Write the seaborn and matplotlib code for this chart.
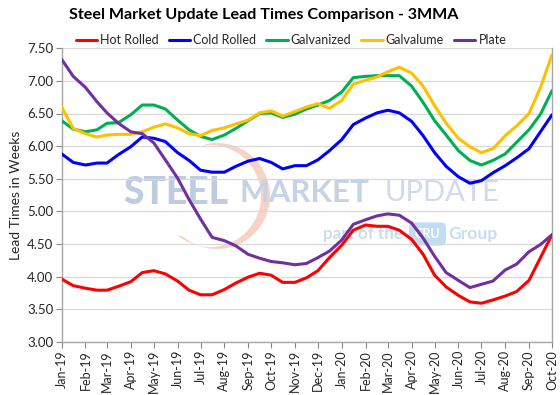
import numpy as np
import pandas as pd
import matplotlib
matplotlib.use("Agg")
import matplotlib.pyplot as plt
import matplotlib.dates as mdates
from matplotlib.patches import Polygon
from matplotlib.transforms import IdentityTransform
import seaborn as sns

# ---- data (semi-monthly survey points, 3-month moving average) ----
dates = pd.to_datetime([
    "2019-01-01", "2019-01-16", "2019-02-01", "2019-02-16", "2019-03-01", "2019-03-16",
    "2019-04-01", "2019-04-16", "2019-05-01", "2019-05-16", "2019-06-01", "2019-06-16",
    "2019-07-01", "2019-07-16", "2019-08-01", "2019-08-16", "2019-09-01", "2019-09-16",
    "2019-10-01", "2019-10-16", "2019-11-01", "2019-11-16", "2019-12-01", "2019-12-16",
    "2020-01-01", "2020-01-16", "2020-02-01", "2020-02-16", "2020-03-01", "2020-03-16",
    "2020-04-01", "2020-04-16", "2020-05-01", "2020-05-16", "2020-06-01", "2020-06-16",
    "2020-07-01", "2020-07-16", "2020-08-01", "2020-08-16", "2020-09-01", "2020-09-16",
    "2020-10-01"])

hot_rolled = [3.96, 3.86, 3.82, 3.79, 3.79, 3.85, 3.92, 4.06, 4.09, 4.04, 3.93, 3.79,
              3.72, 3.72, 3.80, 3.90, 3.99, 4.05, 4.02, 3.91, 3.91, 3.98, 4.09, 4.29,
              4.48, 4.71, 4.79, 4.77, 4.77, 4.71, 4.57, 4.34, 4.02, 3.84, 3.71, 3.61,
              3.59, 3.64, 3.70, 3.77, 3.94, 4.29, 4.64]
cold_rolled = [5.88, 5.75, 5.71, 5.74, 5.74, 5.87, 5.99, 6.14, 6.12, 6.07, 5.90, 5.78,
               5.63, 5.60, 5.60, 5.69, 5.77, 5.81, 5.75, 5.65, 5.70, 5.70, 5.79, 5.93,
               6.10, 6.33, 6.43, 6.51, 6.55, 6.51, 6.38, 6.16, 5.90, 5.69, 5.53, 5.43,
               5.47, 5.59, 5.70, 5.82, 5.96, 6.22, 6.48]
galvanized = [6.39, 6.26, 6.22, 6.25, 6.35, 6.36, 6.48, 6.63, 6.63, 6.57, 6.40, 6.25,
              6.15, 6.10, 6.17, 6.27, 6.39, 6.50, 6.51, 6.44, 6.49, 6.57, 6.63, 6.70,
              6.83, 7.05, 7.07, 7.08, 7.08, 7.08, 6.92, 6.67, 6.39, 6.17, 5.93, 5.78,
              5.71, 5.78, 5.88, 6.06, 6.25, 6.49, 6.85]
galvalume = [6.60, 6.27, 6.19, 6.14, 6.17, 6.18, 6.18, 6.22, 6.29, 6.34, 6.28, 6.19,
             6.16, 6.24, 6.28, 6.34, 6.40, 6.51, 6.54, 6.46, 6.53, 6.60, 6.65, 6.58,
             6.70, 6.95, 7.01, 7.06, 7.14, 7.21, 7.12, 6.92, 6.62, 6.35, 6.12, 5.99,
             5.90, 5.96, 6.16, 6.31, 6.50, 6.90, 7.40]
plate = [7.33, 7.07, 6.90, 6.68, 6.51, 6.35, 6.22, 6.19, 6.05, 5.79, 5.51, 5.18,
         4.88, 4.60, 4.55, 4.47, 4.34, 4.28, 4.23, 4.21, 4.18, 4.20, 4.29, 4.39,
         4.56, 4.80, 4.87, 4.93, 4.96, 4.94, 4.82, 4.59, 4.31, 4.06, 3.94, 3.83,
         3.88, 3.93, 4.10, 4.19, 4.38, 4.49, 4.64]

series_names = ["Hot Rolled", "Cold Rolled", "Galvanized", "Galvalume", "Plate"]
series_values = [hot_rolled, cold_rolled, galvanized, galvalume, plate]
colors = ["#FF0000", "#0000FF", "#00B050", "#FFC000", "#7030A0"]

title = "Steel Market Update Lead Times Comparison - 3MMA"
y_label = "Lead Times in Weeks"
y_ticks = [3.0, 3.5, 4.0, 4.5, 5.0, 5.5, 6.0, 6.5, 7.0, 7.5]

df = pd.concat([pd.DataFrame({"Date": dates, "Weeks": v, "Product": n})
                for n, v in zip(series_names, series_values)], ignore_index=True)

# ---- styling ----
sns.set_theme(style="white")
plt.rcParams["font.family"] = ["Lato", "DejaVu Sans"]

W, H = 560, 395
fig = plt.figure(figsize=(W / 100, H / 100), dpi=100)
L, R, T, B = 61.7, 552.0, 48.3, 341.7
ax = fig.add_axes([L / W, 1 - B / H, (R - L) / W, (B - T) / H])
renderer = fig.canvas.get_renderer()


def fit_text(s, x0, x1, yc, **kw):
    """Place text (pixel coords from top-left) so it spans x0..x1, centred at yc."""
    t = fig.text(x0 / W, 1 - yc / H, s, ha="left", va="center", fontsize=20, **kw)
    w = t.get_window_extent(renderer).width
    t.set_fontsize(20 * (x1 - x0) / w)
    return t


# watermark: crescent
cx, cy, rad = 217.0, H - 196.0, 53.0
ang_o = np.radians(np.linspace(100, -130, 80))
ang_i = ang_o[::-1]
outer = np.c_[cx + rad * np.cos(ang_o), cy + rad * np.sin(ang_o)]
inner = np.c_[cx - 7 + (rad - 2) * np.cos(ang_i), cy + (rad - 2) * np.sin(ang_i)]
fig.add_artist(Polygon(np.vstack([outer, inner]), closed=True, transform=IdentityTransform(),
                       facecolor="#F5C9B8", edgecolor="none", alpha=0.8, zorder=0.5))

wm = dict(zorder=0.6)
fit_text("STEEL", 123, 228, 193, fontweight="black", color="#BFCCE0", **wm)
fit_text("MARKET", 240, 370, 193, fontweight="bold", color="#C6D2E6", **wm)
fit_text("UPDATE", 385, 500, 193, fontweight="normal", color="#D0DAEC", **wm)
fit_text("part of the", 323, 403, 234, fontweight="bold", color="#CCDCEE", **wm)
fig.text(427.5 / W, 1 - 234 / H, "CRU", ha="center", va="center", fontsize=9,
         fontweight="bold", color="white", zorder=0.6,
         bbox=dict(boxstyle="round,pad=0.45", facecolor="#C2DDF1", edgecolor="none"))
fit_text("Group", 448, 497, 234, fontweight="bold", color="#CCDCEE", **wm)

ax.set_facecolor("none")
ax.set_zorder(1)

sns.lineplot(data=df, x="Date", y="Weeks", hue="Product", palette=colors,
             hue_order=series_names, linewidth=2.2, ax=ax, zorder=3)

ax.set_xlim(dates[0], dates[-1])
ax.set_ylim(3.0, 7.5)
ax.set_yticks(y_ticks)
ax.yaxis.set_major_formatter(matplotlib.ticker.FormatStrFormatter("%.2f"))
ax.xaxis.set_major_locator(mdates.MonthLocator())
ax.xaxis.set_major_formatter(mdates.DateFormatter("%b-%y"))
plt.setp(ax.get_xticklabels(), rotation=90, ha="center")
ax.tick_params(axis="x", labelsize=9, length=4, width=0.8, color="#888888", direction="out",
               bottom=True, pad=2)
ax.tick_params(axis="y", labelsize=9.5, length=4, width=0.8, color="#888888", direction="out",
               left=True, pad=2)

ax.grid(axis="y", color="#D9D9D9", linewidth=0.9, zorder=1)
ax.set_axisbelow(True)
for side in ["left", "bottom", "right"]:
    ax.spines[side].set_color("#A6A6A6")
    ax.spines[side].set_linewidth(1.0)
ax.spines["top"].set_visible(False)

ax.set_xlabel("")
ax.set_ylabel(y_label, fontsize=10, labelpad=4)

fit_text(title, 69, 458, 15, fontweight="bold", color="black")
ax.legend(loc="center left", bbox_to_anchor=((76 - L) / (R - L), 1 + (T - 40) / (B - T)),
          ncol=5, frameon=False, fontsize=9, handlelength=1.7, handletextpad=0.25,
          columnspacing=0.8, borderaxespad=0, borderpad=0)

fig.savefig("out.png", dpi=100)
